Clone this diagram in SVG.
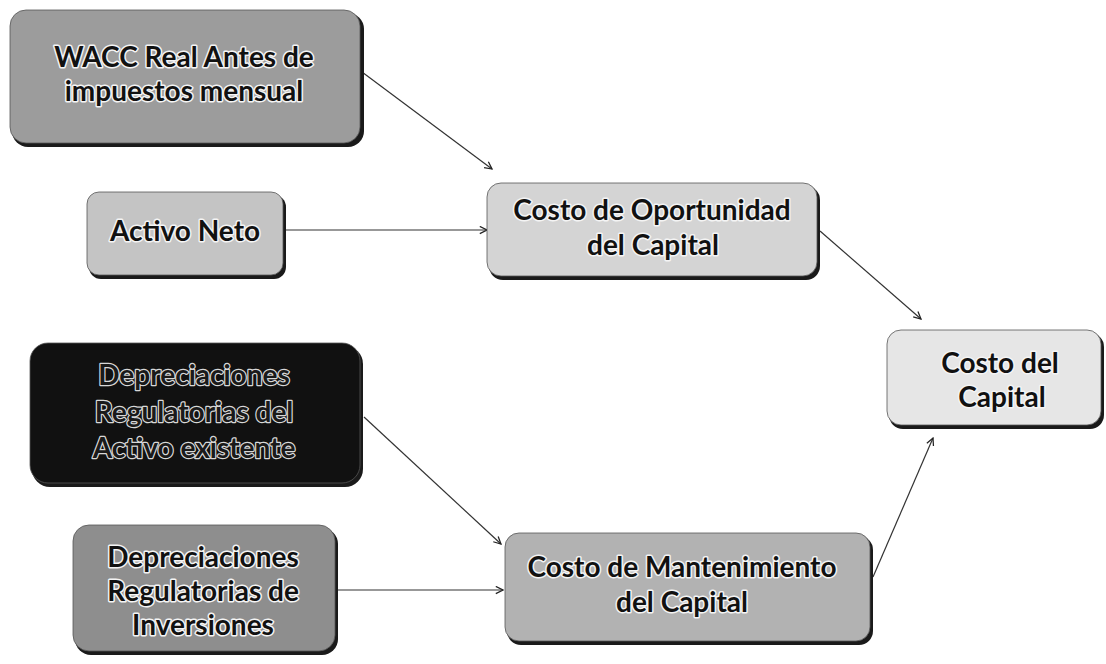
<svg xmlns="http://www.w3.org/2000/svg" width="1106" height="664" viewBox="0 0 1106 664">
  <defs>
    <marker id="arrow" viewBox="0 0 10 10" refX="9" refY="5" markerWidth="9" markerHeight="9" markerUnits="userSpaceOnUse" orient="auto">
      <path d="M1,1 L9,5 L1,9" fill="none" stroke="#222" stroke-width="1.4"/>
    </marker>
  </defs>
  <style>
    .shadow { fill: #1a1a1a; }
    .box { stroke: #555; stroke-width: 0.8; }
    .lbl { font-family: Lato, "Liberation Sans", sans-serif; font-weight: 700; font-size: 28px; text-anchor: middle; fill: #111; stroke: #f4f4f4; stroke-width: 3px; paint-order: stroke; stroke-linejoin: round; }
    .lbl-inv { fill: #1a1a1a; stroke: #d8d8d8; stroke-width: 2.4px; }
    .edge { fill: none; stroke: #333; stroke-width: 1.2; marker-end: url(#arrow); }
  </style>

  <!-- connectors -->
  <g id="connectors">
    <line class="edge" x1="362" y1="72" x2="492" y2="169"/>
    <line class="edge" x1="285" y1="230" x2="487" y2="230"/>
    <line class="edge" x1="820" y1="231" x2="921" y2="319"/>
    <line class="edge" x1="364" y1="417" x2="501" y2="544"/>
    <line class="edge" x1="337" y1="590" x2="503" y2="590"/>
    <line class="edge" x1="873" y1="577" x2="933" y2="438"/>
  </g>

  <g id="wacc">
    <rect class="shadow" x="12" y="13" width="352" height="134" rx="16"/>
    <rect class="box" x="10" y="10" width="350" height="133" rx="16" fill="#9c9c9c"/>
    <text class="lbl" x="184" y="67">WACC Real Antes de</text>
    <text class="lbl" x="184" y="101">impuestos mensual</text>
  </g>

  <g id="activo-neto">
    <rect class="shadow" x="89" y="195" width="197" height="84" rx="12"/>
    <rect class="box" x="87" y="192" width="196" height="83" rx="12" fill="#c4c4c4"/>
    <text class="lbl" x="185" y="241">Activo Neto</text>
  </g>

  <g id="costo-oportunidad">
    <rect class="shadow" x="489" y="186" width="331" height="94" rx="14"/>
    <rect class="box" x="487" y="183" width="330" height="93" rx="14" fill="#d4d4d4"/>
    <text class="lbl" x="652" y="220">Costo de Oportunidad</text>
    <text class="lbl" x="653" y="255">del Capital</text>
  </g>

  <g id="dep-activo-existente">
    <rect class="shadow" x="32" y="346" width="331" height="141" rx="18"/>
    <rect class="box" x="30" y="343" width="330" height="140" rx="18" fill="#111"/>
    <text class="lbl lbl-inv" x="194" y="385">Depreciaciones</text>
    <text class="lbl lbl-inv" x="194" y="422">Regulatorias del</text>
    <text class="lbl lbl-inv" x="194" y="458">Activo existente</text>
  </g>

  <g id="dep-inversiones">
    <rect class="shadow" x="75" y="528" width="263" height="127" rx="16"/>
    <rect class="box" x="73" y="525" width="262" height="126" rx="16" fill="#8e8e8e"/>
    <text class="lbl" x="203" y="567">Depreciaciones</text>
    <text class="lbl" x="203" y="601">Regulatorias de</text>
    <text class="lbl" x="203" y="635">Inversiones</text>
  </g>

  <g id="costo-mantenimiento">
    <rect class="shadow" x="507" y="536" width="366" height="109" rx="14"/>
    <rect class="box" x="505" y="533" width="365" height="108" rx="14" fill="#b2b2b2"/>
    <text class="lbl" x="682" y="577">Costo de Mantenimiento</text>
    <text class="lbl" x="682" y="612">del Capital</text>
  </g>

  <g id="costo-capital">
    <rect class="shadow" x="889" y="333" width="215" height="96" rx="14"/>
    <rect class="box" x="887" y="330" width="214" height="95" rx="14" fill="#e6e6e6"/>
    <text class="lbl" x="1000" y="373">Costo del</text>
    <text class="lbl" x="1002" y="407">Capital</text>
  </g>
</svg>
